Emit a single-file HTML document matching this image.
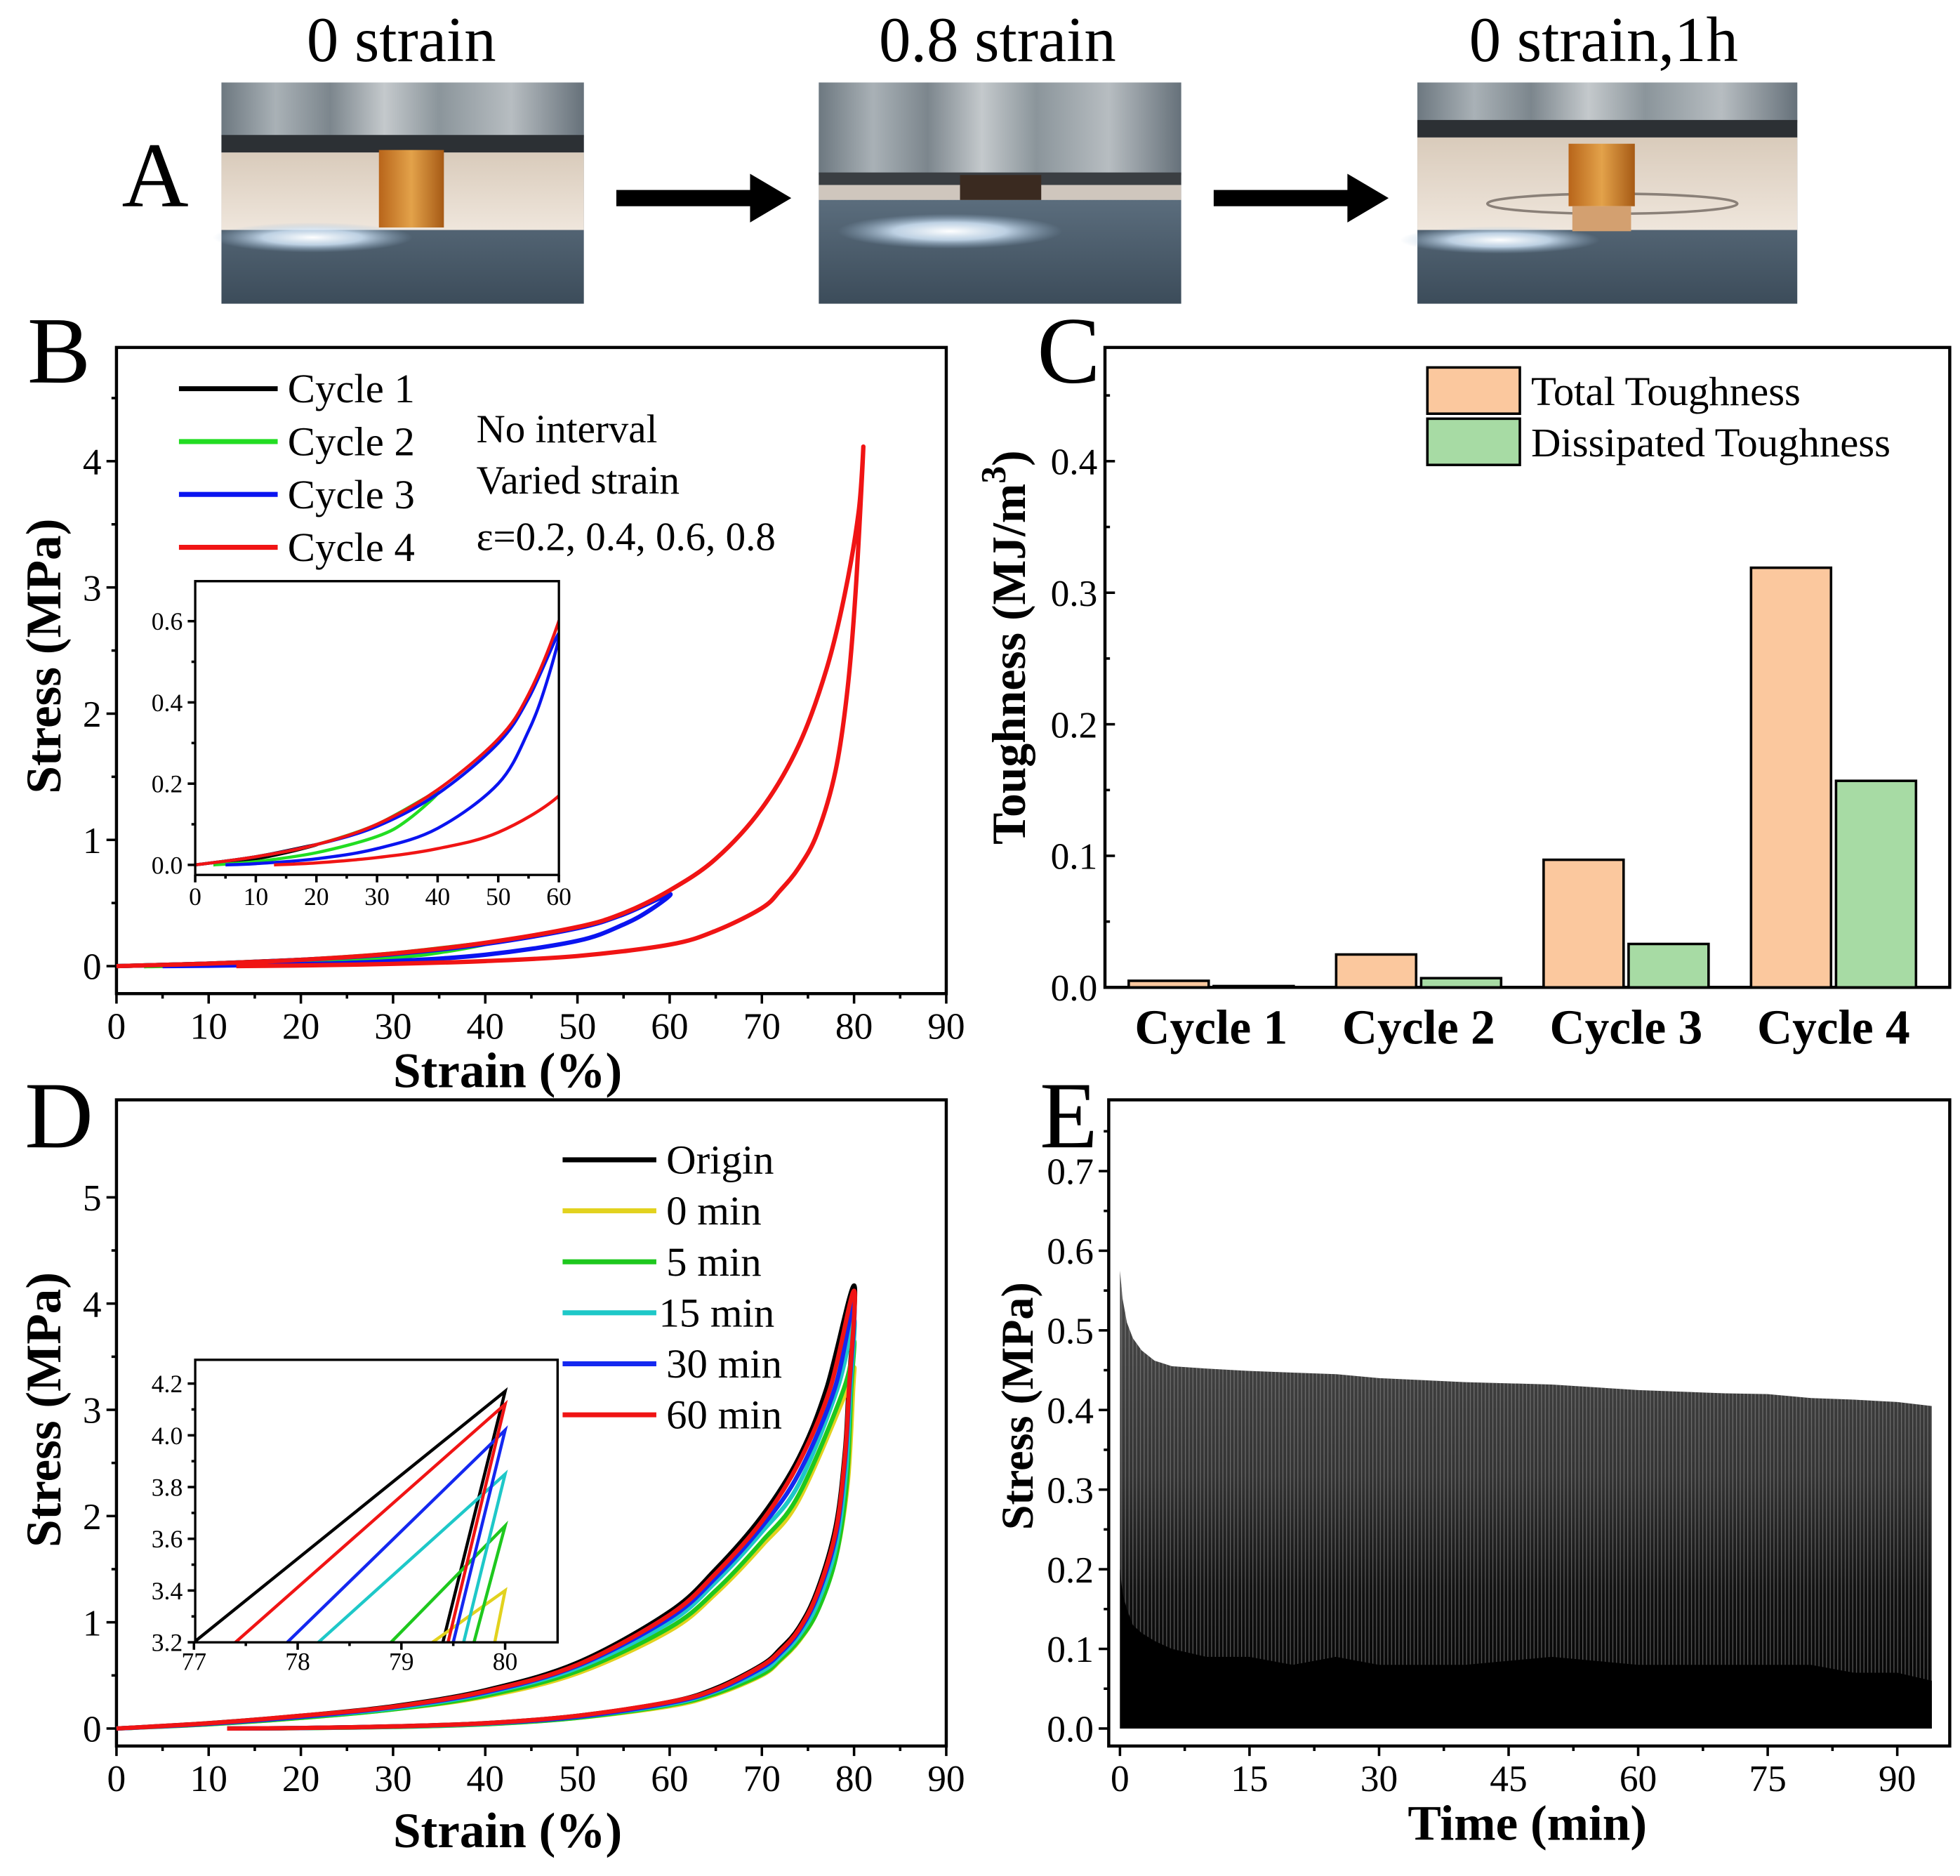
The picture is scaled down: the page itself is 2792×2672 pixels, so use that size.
<!DOCTYPE html>
<html><head><meta charset="utf-8"><style>
html,body{margin:0;padding:0;background:#fff;overflow:hidden;width:2792px;height:2672px}
svg{display:block}
text{font-family:"Liberation Serif",serif;fill:#000}
</style></head><body>
<svg id="fig" width="2792" height="2672" viewBox="0 0 1568 1501" xmlns="http://www.w3.org/2000/svg">
<defs>
<linearGradient id="metal" x1="0" x2="1" y1="0" y2="0">
<stop offset="0" stop-color="#6d7880"/><stop offset="0.15" stop-color="#a9b1b6"/><stop offset="0.3" stop-color="#7c868d"/><stop offset="0.45" stop-color="#c4c9cc"/><stop offset="0.6" stop-color="#8b959b"/><stop offset="0.8" stop-color="#b7bdc1"/><stop offset="1" stop-color="#66717a"/></linearGradient>
<linearGradient id="bottomMetal" x1="0" x2="0" y1="0" y2="1">
<stop offset="0" stop-color="#a9c0d2"/><stop offset="0.3" stop-color="#6a7d8e"/><stop offset="1" stop-color="#3c4c5a"/></linearGradient>
<radialGradient id="glare" cx="0.5" cy="0.5" r="0.5"><stop offset="0" stop-color="#ffffff"/><stop offset="0.5" stop-color="#d8ecff" stop-opacity="0.8"/><stop offset="1" stop-color="#9fbcd6" stop-opacity="0"/></radialGradient>
<linearGradient id="amber" x1="0" x2="1"><stop offset="0" stop-color="#b8651a"/><stop offset="0.5" stop-color="#e3a24a"/><stop offset="1" stop-color="#a65a15"/></linearGradient>
<linearGradient id="beige" x1="0" x2="0" y1="0" y2="1"><stop offset="0" stop-color="#d9cbbb"/><stop offset="1" stop-color="#efe6dc"/></linearGradient>
<linearGradient id="cycFill" x1="0" x2="0" y1="1" y2="0"><stop offset="0" stop-color="#000"/><stop offset="0.3" stop-color="#111"/><stop offset="0.55" stop-color="#333"/><stop offset="1" stop-color="#4a4a4a"/></linearGradient>
<pattern id="stripes" width="3" height="10" patternUnits="userSpaceOnUse"><rect x="0" y="0" width="0.7" height="10" fill="#9a9a9a" opacity="0.55"/></pattern>
<clipPath id="clipInB"><rect x="156" y="465" width="291" height="235"/></clipPath>
<clipPath id="clipInD"><rect x="156" y="1088" width="290" height="226"/></clipPath>
</defs>

<!-- Panel A -->
<g>
<text x="124" y="165" font-size="74" text-anchor="middle">A</text>
<text x="321" y="49" font-size="51" text-anchor="middle">0 strain</text>
<text x="798" y="49" font-size="51" text-anchor="middle">0.8 strain</text>
<text x="1283" y="49" font-size="51" text-anchor="middle">0 strain,1h</text>
<g>
<rect x="177" y="66" width="290" height="177" fill="url(#bottomMetal)"/>
<rect x="177" y="66" width="290" height="44" fill="url(#metal)"/>
<rect x="177" y="108" width="290" height="14" fill="#2c3034"/>
<rect x="177" y="122" width="290" height="62" fill="url(#beige)"/>
<ellipse cx="250" cy="190" rx="80" ry="12" fill="url(#glare)"/>
<rect x="303" y="120" width="52" height="62" fill="url(#amber)"/>
</g>
<g>
<rect x="655" y="66" width="290" height="177" fill="url(#bottomMetal)"/>
<rect x="655" y="66" width="290" height="74" fill="url(#metal)"/>
<rect x="655" y="138" width="290" height="10" fill="#3a3e42"/>
<rect x="655" y="148" width="290" height="12" fill="#cfc6bd"/>
<rect x="768" y="140" width="65" height="20" fill="#3a2a20"/>
<ellipse cx="760" cy="185" rx="90" ry="14" fill="url(#glare)"/>
</g>
<g>
<rect x="1134" y="66" width="304" height="177" fill="url(#bottomMetal)"/>
<rect x="1134" y="66" width="304" height="32" fill="url(#metal)"/>
<rect x="1134" y="96" width="304" height="14" fill="#2c3034"/>
<rect x="1134" y="110" width="304" height="74" fill="url(#beige)"/>
<ellipse cx="1290" cy="163" rx="100" ry="8" fill="none" stroke="#8a8078" stroke-width="2"/>
<ellipse cx="1200" cy="192" rx="80" ry="11" fill="url(#glare)"/>
<rect x="1255" y="115" width="53" height="50" fill="url(#amber)"/>
<rect x="1258" y="165" width="47" height="20" fill="#d3a070"/>
</g>
<g><rect x="493" y="152" width="110" height="13" fill="#000"/><polygon points="600,139 633,158.5 600,178" fill="#000"/></g>
<g><rect x="971" y="152" width="110" height="13" fill="#000"/><polygon points="1078,139 1111,158.5 1078,178" fill="#000"/></g>
</g>

<!-- letters & titles -->
<text x="47" y="306" font-size="76" text-anchor="middle">B</text>
<text x="855" y="306" font-size="76" text-anchor="middle">C</text>
<text x="47" y="918" font-size="76" text-anchor="middle">D</text>
<text x="855" y="918" font-size="76" text-anchor="middle">E</text>

<text x="406" y="870" font-size="40" font-weight="bold" text-anchor="middle">Strain (%)</text>
<text transform="translate(48,525) rotate(-90)" font-size="40" font-weight="bold" text-anchor="middle">Stress (MPa)</text>
<text transform="translate(820,518) rotate(-90)" font-size="38" font-weight="bold" text-anchor="middle">Toughness (MJ/m<tspan dy="-16" font-size="28">3</tspan><tspan dy="16">)</tspan></text>
<text x="406" y="1478" font-size="40" font-weight="bold" text-anchor="middle">Strain (%)</text>
<text transform="translate(48,1128) rotate(-90)" font-size="40" font-weight="bold" text-anchor="middle">Stress (MPa)</text>
<text x="1222" y="1472" font-size="40" font-weight="bold" text-anchor="middle">Time (min)</text>
<text transform="translate(826,1125) rotate(-90)" font-size="36" font-weight="bold" text-anchor="middle">Stress (MPa)</text>

<g>
<text x="381" y="354" font-size="32">No interval</text>
<text x="381" y="395" font-size="32">Varied strain</text>
<text x="381" y="440" font-size="32">ε=0.2, 0.4, 0.6, 0.8</text>
</g>
</svg>
<script>
const NS='http://www.w3.org/2000/svg';
const svg=document.getElementById('fig');
function mk(tag,attrs,parent){const e=document.createElementNS(NS,tag);for(const k in attrs)e.setAttribute(k,attrs[k]);(parent||svg).appendChild(e);return e;}
function lin(d0,d1,r0,r1){return v=>r0+(v-d0)*(r1-r0)/(d1-d0);}
function smooth(pts){
  if(pts.length<3)return 'M'+pts.map(p=>p.join(',')).join('L');
  let d='M'+pts[0][0]+','+pts[0][1];
  for(let i=0;i<pts.length-1;i++){
    const p0=pts[Math.max(0,i-1)],p1=pts[i],p2=pts[i+1],p3=pts[Math.min(pts.length-1,i+2)];
    const c1=[p1[0]+(p2[0]-p0[0])/6,p1[1]+(p2[1]-p0[1])/6];
    const c2=[p2[0]-(p3[0]-p1[0])/6,p2[1]-(p3[1]-p1[1])/6];
    d+='C'+c1.join(',')+' '+c2.join(',')+' '+p2.join(',');
  }
  return d;
}
function axes(o){
  const g=mk('g',{});
  
  
  const box=mk('rect',{x:o.l,y:o.t,width:o.r-o.l,height:o.b-o.t,fill:'none',stroke:'#000','stroke-width':o.sw||2.5},g);
  
  
  const tl=o.tl||8;
  const dir=o.inward?-1:1;
  o.xt.forEach((v,i)=>{
    const X=o.x(v);
    mk('line',{x1:X,x2:X,y1:o.b,y2:o.b+dir*tl,stroke:'#000','stroke-width':2},g);
    const t=mk('text',{x:X,y:o.b+tl+o.fx,'font-size':o.fs,'text-anchor':'middle'},g);
    t.textContent=o.xl[i];
    
    
  });
  (o.xm||[]).forEach(v=>{const X=o.x(v);mk('line',{x1:X,x2:X,y1:o.b,y2:o.b+dir*tl/2,stroke:'#000','stroke-width':2},g);});
  o.yt.forEach((v,i)=>{
    const Y=o.y(v);
    mk('line',{x1:o.l-dir*tl,x2:o.l,y1:Y,y2:Y,stroke:'#000','stroke-width':2},g);
    const t=mk('text',{x:o.l-(o.inward?6:tl+4),y:Y+o.fs*0.35,'font-size':o.fs,'text-anchor':'end'},g);
    t.textContent=o.yl[i];
    
    
  });
  (o.ym||[]).forEach(v=>{const Y=o.y(v);mk('line',{x1:o.l-dir*tl/2,x2:o.l,y1:Y,y2:Y,stroke:'#000','stroke-width':2},g);});
  return g;
}

/* ---------- Panel B data ---------- */
const bSeriesNames=['Cycle 1','Cycle 2','Cycle 3','Cycle 4'];
const bColors=['#000000','#22dd22','#0a14f0','#f01414'];
const bLoad1=[[0,0],[10,0.02],[20,0.05]];
const bUnload1=[[20,0.05],[15,0.03],[10,0.015],[3,0]];
const bLoad2=[[0,0],[10,0.02],[20,0.05],[30,0.1],[40,0.18]];
const bUnload2=[[40,0.18],[35,0.11],[30,0.07],[20,0.03],[10,0.008],[3,0]];
const bLoad3=[[0,0],[10,0.02],[20,0.05],[30,0.095],[40,0.175],[50,0.3],[55,0.41],[60,0.57]];
const bUnload3=[[60,0.57],[58,0.45],[55,0.33],[50,0.2],[40,0.09],[30,0.04],[20,0.015],[10,0.003],[5,0]];
const bLoad4=[[0,0],[10,0.02],[20,0.05],[30,0.1],[40,0.185],[50,0.31],[55,0.42],[60,0.6],[65,0.85],[70,1.25],[74,1.75],[77,2.35],[79,2.95],[80.5,3.6],[81,4.1]];
const bUnload4=[[81,4.1],[80.2,3.0],[79.3,2.2],[78,1.55],[76,1.05],[74,0.78],[72,0.6],[70,0.46],[65,0.28],[60,0.17],[50,0.08],[40,0.04],[30,0.018],[20,0.005],[13,0]];
const bLoads=[bLoad1,bLoad2,bLoad3,bLoad4];
const bUnloads=[bUnload1,bUnload2,bUnload3,bUnload4];
const bXTicks=[0,10,20,30,40,50,60,70,80,90];
const bYTicks=[0,1,2,3,4];
const bInXTicks=[0,10,20,30,40,50,60];
const bInYTicks=[0,0.2,0.4,0.6];

/* ---------- Panel C data ---------- */
const cCategories=['Cycle 1','Cycle 2','Cycle 3','Cycle 4'];
const cTotal=[0.005,0.025,0.097,0.319];
const cDissipated=[0.001,0.007,0.033,0.157];
const cYTicks=[0,0.1,0.2,0.3,0.4];
const cYLabels=['0.0','0.1','0.2','0.3','0.4'];

/* ---------- Panel D data ---------- */
const dSeriesNames=['Origin','0 min','5 min','15 min','30 min','60 min'];
const dColors=['#000000','#e2d21e','#1ec81e','#1ec8c8','#1428f0','#f01414'];
const dLoadOrigin=[[0,0],[10,0.05],[20,0.12],[30,0.21],[40,0.36],[50,0.62],[60,1.1],[65,1.5],[70,2.0],[74,2.55],[77,3.2],[80,4.17]];
const dUnloadOrigin=[[80,4.17],[79.4,3.2],[79,2.6],[78,1.9],[76,1.3],[74,0.95],[72,0.75],[70,0.6],[65,0.38],[60,0.25],[50,0.12],[40,0.05],[30,0.02],[20,0.005],[12,0]];
const dLoad0=[[0,0],[10,0.04],[20,0.1],[30,0.18],[40,0.3],[50,0.52],[60,0.92],[65,1.27],[70,1.72],[74,2.15],[79.3,3.2],[80,3.4]];
const dUnload0=[[80,3.4],[79.9,3.2],[79.3,2.3],[78,1.6],[76,1.1],[74,0.82],[72,0.64],[70,0.5],[65,0.32],[60,0.21],[50,0.1],[40,0.04],[30,0.015],[20,0.004],[12,0]];
const dLoad5=[[0,0],[10,0.04],[20,0.1],[30,0.18],[40,0.31],[50,0.54],[60,0.95],[65,1.3],[70,1.76],[74,2.2],[78.9,3.2],[80,3.65]];
const dUnload5=[[80,3.65],[79.7,3.2],[79.2,2.3],[78,1.6],[76,1.1],[74,0.83],[72,0.65],[70,0.51],[65,0.33],[60,0.22],[50,0.1],[40,0.04],[30,0.015],[20,0.004],[12,0]];
const dLoad15=[[0,0],[10,0.045],[20,0.11],[30,0.19],[40,0.33],[50,0.57],[60,1.0],[65,1.38],[70,1.85],[74,2.3],[78.2,3.2],[80,3.85]];
const dUnload15=[[80,3.85],[79.6,3.2],[79.1,2.4],[78,1.7],[76,1.17],[74,0.87],[72,0.68],[70,0.54],[65,0.35],[60,0.23],[50,0.11],[40,0.045],[30,0.018],[20,0.004],[12,0]];
const dLoad30=[[0,0],[10,0.045],[20,0.11],[30,0.2],[40,0.34],[50,0.59],[60,1.04],[65,1.42],[70,1.9],[74,2.4],[77.9,3.2],[80,4.02]];
const dUnload30=[[80,4.02],[79.5,3.2],[79,2.5],[78,1.8],[76,1.24],[74,0.91],[72,0.71],[70,0.57],[65,0.36],[60,0.24],[50,0.11],[40,0.048],[30,0.019],[20,0.005],[12,0]];
const dLoad60=[[0,0],[10,0.05],[20,0.12],[30,0.205],[40,0.35],[50,0.6],[60,1.07],[65,1.46],[70,1.95],[74,2.5],[77.4,3.2],[80,4.12]];
const dUnload60=[[80,4.12],[79.45,3.2],[79,2.55],[78,1.85],[76,1.27],[74,0.93],[72,0.73],[70,0.59],[65,0.37],[60,0.25],[50,0.12],[40,0.05],[30,0.02],[20,0.005],[12,0]];
const dLoads=[dLoadOrigin,dLoad0,dLoad5,dLoad15,dLoad30,dLoad60];
const dUnloads=[dUnloadOrigin,dUnload0,dUnload5,dUnload15,dUnload30,dUnload60];
const dXTicks=[0,10,20,30,40,50,60,70,80,90];
const dYTicks=[0,1,2,3,4,5];
const dInXTicks=[77,78,79,80];
const dInYTicks=[3.2,3.4,3.6,3.8,4.0,4.2];
const dInYLabels=['3.2','3.4','3.6','3.8','4.0','4.2'];

/* ---------- Panel E data ---------- */
const eTimes=[0,0.3,0.8,1.5,2.5,4,6,10,15,20,25,30,40,50,60,70,75,80,85,90,94];
const ePeaks=[0.575,0.54,0.51,0.49,0.475,0.462,0.455,0.452,0.449,0.447,0.445,0.44,0.435,0.432,0.425,0.421,0.42,0.415,0.413,0.41,0.405];
const eDarkTop=[0.2,0.17,0.15,0.13,0.12,0.11,0.1,0.09,0.09,0.08,0.09,0.08,0.08,0.09,0.08,0.08,0.08,0.08,0.07,0.07,0.06];
const eXTicks=[0,15,30,45,60,75,90];
const eYTicks=[0,0.1,0.2,0.3,0.4,0.5,0.6,0.7];
const eYLabels=['0.0','0.1','0.2','0.3','0.4','0.5','0.6','0.7'];

/* ===== Draw B ===== */
const xB=lin(0,90,93,757), yB=lin(0,4,773,369);
axes({name:'panel-b-axes',l:93,r:757,t:278,b:795,x:xB,y:yB,xt:bXTicks,xl:bXTicks.map(String),xm:[5,15,25,35,45,55,65,75,85],yt:bYTicks,yl:bYTicks.map(String),ym:[0.5,1.5,2.5,3.5,4.5],fs:30,fx:28});
for(let s=0;s<4;s++){
  const pts=bLoads[s].concat(bUnloads[s].slice(1)).map(p=>[xB(p[0]),yB(p[1])]);
  const p=mk('path',{d:smooth(pts),fill:'none',stroke:bColors[s],'stroke-width':3.5,'stroke-linejoin':'round'});
  
  
}
for(let s=0;s<4;s++){
  const Y=311+s*42.3;
  const l=mk('line',{x1:143,x2:222,y1:Y,y2:Y,stroke:bColors[s],'stroke-width':4});
  
  
  const t=mk('text',{x:230,y:Y+11,'font-size':33});
  t.textContent=bSeriesNames[s];
  
  
}
const xBi=lin(0,60,156,447), yBi=lin(0,0.6,692,497);
const bIn=axes({name:'panel-b-inset',l:156,r:447,t:465,b:700,x:xBi,y:yBi,xt:bInXTicks,xl:bInXTicks.map(String),xm:[5,15,25,35,45,55],yt:bInYTicks,yl:['0.0','0.2','0.4','0.6'],ym:[0.1,0.3,0.5],fs:20,fx:18,tl:6,sw:1.8});
mk('rect',{x:157,y:466,width:289,height:233,fill:'#fff'},bIn);
const bInG=mk('g',{'clip-path':'url(#clipInB)'});
for(let s=0;s<4;s++){
  const pts=bLoads[s].concat(bUnloads[s].slice(1)).map(p=>[xBi(p[0]),yBi(p[1])]);
  const p=mk('path',{d:smooth(pts),fill:'none',stroke:bColors[s],'stroke-width':2.5},bInG);
  
  
}
mk('rect',{x:156,y:465,width:291,height:235,fill:'none',stroke:'#000','stroke-width':1.8});

/* ===== Draw C ===== */
const yC=lin(0,0.4,790,369);
const cCenters=lin(0,3,969,1467);
axes({name:'panel-c-axes',l:884,r:1560,t:278,b:790,x:cCenters,y:yC,xt:[],xl:[],yt:cYTicks,yl:cYLabels,ym:[0.05,0.15,0.25,0.35,0.45],fs:30,fx:28,inward:true});
cCategories.forEach((c,i)=>{
  const cx=cCenters(i);
  const b1=mk('rect',{x:cx-66,y:yC(cTotal[i]),width:64,height:790-yC(cTotal[i]),fill:'#fbc89e',stroke:'#000','stroke-width':2});
  
  
  const b2=mk('rect',{x:cx+2,y:yC(cDissipated[i]),width:64,height:790-yC(cDissipated[i]),fill:'#a7dba4',stroke:'#000','stroke-width':2});
  
  
  const t=mk('text',{x:cx,y:835,'font-size':39,'font-weight':'bold','text-anchor':'middle'});
  t.textContent=c;
  
  
});
[['Total Toughness','#fbc89e',294],['Dissipated Toughness','#a7dba4',335]].forEach((e,i)=>{
  const r=mk('rect',{x:1142,y:e[2],width:74,height:37,fill:e[1],stroke:'#000','stroke-width':2});
  
  
  const t=mk('text',{x:1225,y:e[2]+30,'font-size':33});
  t.textContent=e[0];
  
  
});

/* ===== Draw D ===== */
const xD=lin(0,90,93,757), yD=lin(0,5,1383,958);
axes({name:'panel-d-axes',l:93,r:757,t:880,b:1397,x:xD,y:yD,xt:dXTicks,xl:dXTicks.map(String),xm:[5,15,25,35,45,55,65,75,85],yt:dYTicks,yl:dYTicks.map(String),ym:[0.5,1.5,2.5,3.5,4.5],fs:30,fx:28});
for(let s=0;s<6;s++){
  const pts=dLoads[s].concat(dUnloads[s].slice(1)).map(p=>[xD(p[0]),yD(p[1])]);
  const p=mk('path',{d:smooth(pts),fill:'none',stroke:dColors[s],'stroke-width':3.5});
  
  
}
const xDi=lin(77,80,155,404), yDi=lin(3.2,4.2,1314,1107);
const dIn=axes({name:'panel-d-inset',l:156,r:446,t:1088,b:1314,x:xDi,y:yDi,xt:dInXTicks,xl:dInXTicks.map(String),xm:[77.5,78.5,79.5],yt:dInYTicks,yl:dInYLabels,ym:[3.3,3.5,3.7,3.9,4.1],fs:20,fx:16,tl:6,sw:1.8});
mk('rect',{x:157,y:1089,width:288,height:224,fill:'#fff'},dIn);
const dInG=mk('g',{'clip-path':'url(#clipInD)'});
for(let s=0;s<6;s++){
  const pts=dLoads[s].concat(dUnloads[s].slice(1)).map(p=>[xDi(p[0]),yDi(p[1])]);
  const p=mk('polyline',{points:pts.map(q=>q.join(',')).join(' '),fill:'none',stroke:dColors[s],'stroke-width':2.5},dInG);
  
  
}
mk('rect',{x:156,y:1088,width:290,height:226,fill:'none',stroke:'#000','stroke-width':1.8});
for(let s=0;s<6;s++){
  const Y=928+s*40.8;
  const l=mk('line',{x1:450,x2:525,y1:Y,y2:Y,stroke:dColors[s],'stroke-width':4});
  
  
  const t=mk('text',{x:s===3?527:533,y:Y+11,'font-size':33});
  t.textContent=dSeriesNames[s];
  
  
}

/* ===== Draw E ===== */
const xE=lin(0,90,896,1518), yE=lin(0,0.7,1383,937);
axes({name:'panel-e-axes',l:887,r:1560,t:880,b:1397,x:xE,y:yE,xt:eXTicks,xl:eXTicks.map(String),xm:[7.5,22.5,37.5,52.5,67.5,82.5],yt:eYTicks,yl:eYLabels,ym:[0.05,0.15,0.25,0.35,0.45,0.55,0.65,0.75],fs:30,fx:28});
let env='M'+xE(eTimes[0])+','+yE(0);
eTimes.forEach((t,i)=>{env+='L'+xE(t)+','+yE(ePeaks[i]);});
env+='L'+xE(eTimes[eTimes.length-1])+','+yE(0)+'Z';
const envP=mk('path',{d:env,fill:'url(#cycFill)'});


mk('path',{d:env,fill:'url(#stripes)'});
let dark='M'+xE(eTimes[0])+','+yE(0);
eTimes.forEach((t,i)=>{dark+='L'+xE(t)+','+yE(eDarkTop[i]);});
dark+='L'+xE(eTimes[eTimes.length-1])+','+yE(0)+'Z';
const darkP=mk('path',{d:dark,fill:'#000'});


</script>
</body></html>
